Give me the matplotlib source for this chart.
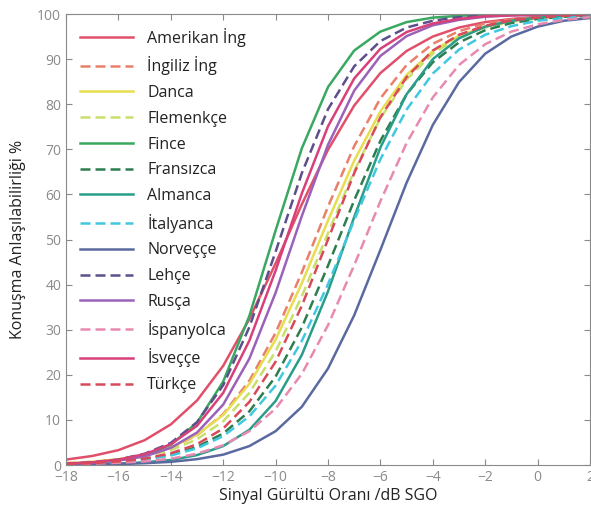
#
# Speech intelligibility vs. signal-to-noise ratio, matrix test, 14 languages.
#

import numpy as np
import matplotlib
matplotlib.use('Agg')
from matplotlib import pyplot as plt

snr = [-18, -17, -16, -15, -14, -13, -12, -11, -10, -9, -8, -7, -6, -5, -4, -3, -2, -1, 0, 1, 2]

# Intelligibility (%) per language
amerikan   = [1.2, 2.0, 3.3, 5.5, 9.0, 14.3, 22.0, 32.4, 44.7, 57.8, 69.9, 79.7, 86.9, 91.8, 95.0, 97.0, 98.2, 98.9, 99.4, 99.6, 99.8]
ingiliz    = [0.4, 0.7, 1.2, 2.1, 3.8, 6.6, 11.3, 18.7, 29.3, 42.7, 57.3, 70.7, 81.3, 88.7, 93.4, 96.2, 97.9, 98.8, 99.3, 99.6, 99.8]
danca      = [0.4, 0.7, 1.3, 2.3, 3.9, 6.7, 11.1, 18.0, 27.8, 40.3, 54.2, 67.5, 78.4, 86.5, 91.8, 95.2, 97.2, 98.4, 99.1, 99.5, 99.7]
flemenkce  = [0.3, 0.6, 1.1, 1.9, 3.3, 5.7, 9.7, 16.0, 25.2, 37.4, 51.4, 65.2, 76.9, 85.5, 91.2, 94.9, 97.0, 98.3, 99.0, 99.4, 99.7]
fince      = [0.2, 0.5, 1.0, 2.1, 4.5, 9.4, 18.5, 33.1, 52.0, 70.2, 83.8, 91.9, 96.1, 98.2, 99.2, 99.6, 99.8, 99.9, 100.0, 100.0, 100.0]
fransizca  = [0.2, 0.4, 0.7, 1.3, 2.3, 4.0, 7.0, 11.9, 19.6, 30.5, 44.2, 58.7, 71.9, 82.2, 89.3, 93.7, 96.4, 98.0, 98.9, 99.4, 99.6]
almanca    = [0.1, 0.2, 0.3, 0.6, 1.1, 2.2, 4.2, 7.8, 14.2, 24.4, 38.5, 55.0, 70.4, 82.2, 90.0, 94.6, 97.2, 98.5, 99.2, 99.6, 99.8]
italyanca  = [0.2, 0.4, 0.7, 1.2, 2.1, 3.7, 6.4, 10.8, 17.6, 27.5, 40.1, 54.3, 67.8, 78.8, 86.8, 92.1, 95.4, 97.3, 98.5, 99.1, 99.5]
norvecce   = [0.1, 0.1, 0.2, 0.4, 0.7, 1.3, 2.3, 4.2, 7.5, 12.9, 21.4, 33.2, 47.7, 62.6, 75.4, 84.9, 91.2, 95.0, 97.2, 98.5, 99.1]
lehce      = [0.3, 0.6, 1.2, 2.5, 4.9, 9.5, 17.7, 30.6, 47.3, 64.7, 78.9, 88.4, 94.0, 97.0, 98.5, 99.3, 99.6, 99.8, 99.9, 100.0, 100.0]
rusca      = [0.3, 0.5, 1.0, 1.9, 3.8, 7.2, 13.4, 23.6, 38.2, 55.2, 71.0, 83.0, 90.7, 95.1, 97.5, 98.7, 99.4, 99.7, 99.8, 99.9, 100.0]
ispanyolca = [0.1, 0.3, 0.5, 0.8, 1.4, 2.5, 4.4, 7.5, 12.5, 20.2, 31.0, 44.3, 58.5, 71.4, 81.5, 88.7, 93.3, 96.1, 97.7, 98.7, 99.3]
isvecce    = [0.3, 0.6, 1.2, 2.4, 4.6, 8.7, 16.0, 27.6, 43.1, 60.2, 75.1, 85.7, 92.3, 96.0, 97.9, 98.9, 99.5, 99.7, 99.9, 99.9, 100.0]
turkce     = [0.2, 0.4, 0.8, 1.4, 2.6, 4.6, 8.1, 14.0, 22.9, 35.3, 50.0, 64.7, 77.1, 86.0, 91.9, 95.4, 97.4, 98.6, 99.2, 99.6, 99.8]

labels = ['Amerikan İng', 'İngiliz İng', 'Danca', 'Flemenkçe', 'Fince', 'Fransızca', 'Almanca',
          'İtalyanca', 'Norveççe', 'Lehçe', 'Rusça', 'İspanyolca', 'İsveççe', 'Türkçe']
series = [amerikan, ingiliz, danca, flemenkce, fince, fransizca, almanca,
          italyanca, norvecce, lehce, rusca, ispanyolca, isvecce, turkce]

colours = ['#e0506a', '#e8806a', '#e8dc50', '#c8e06a', '#3aa860', '#2e7d50', '#2a9d8a',
           '#40c8e0', '#5a6aa0', '#5c4f8c', '#9a62b8', '#e88ab0', '#d8407a', '#d84a5a']

grey = '#8a8a8a'
fs = 11.5

plt.rcParams['font.family'] = ['Open Sans', 'DejaVu Sans']

fig = plt.figure(figsize=(5.91, 5.11), dpi=100)
ax = fig.add_axes([0.1117, 0.09, 0.8866, 0.8826])

# solid for the first of each pair, dashed for the second
for i in range(len(series)):
    if i % 2 == 0:
        ax.plot(snr, series[i], color=colours[i], lw=1.8, label=labels[i])
    else:
        ax.plot(snr, series[i], color=colours[i], lw=1.8, dashes=(4, 2), label=labels[i])

ax.set_xlim(-18, 2)
ax.set_ylim(0, 100)
ax.set_xticks(np.arange(-18, 3, 2))
ax.set_yticks(np.arange(0, 101, 10))
ax.tick_params(direction='in', top=True, right=True, length=4, color=grey,
               labelcolor=grey, labelsize=10)
for sp in ax.spines.values():
    sp.set_color(grey)

ax.set_xlabel('Sinyal Gürültü Oranı /dB SGO', fontsize=fs, color='#222222', labelpad=2)
ax.set_ylabel('Konuşma Anlaşılabilirliği %', fontsize=fs, color='#222222', labelpad=8)

leg = ax.legend(loc='upper left', bbox_to_anchor=(0.027, 0.97), frameon=False,
                borderpad=0, borderaxespad=0, handlelength=3.3, handletextpad=0.9,
                labelspacing=0.61, fontsize=fs)
for t in leg.get_texts():
    t.set_color('#222222')

plt.savefig('out.png', dpi=100)
